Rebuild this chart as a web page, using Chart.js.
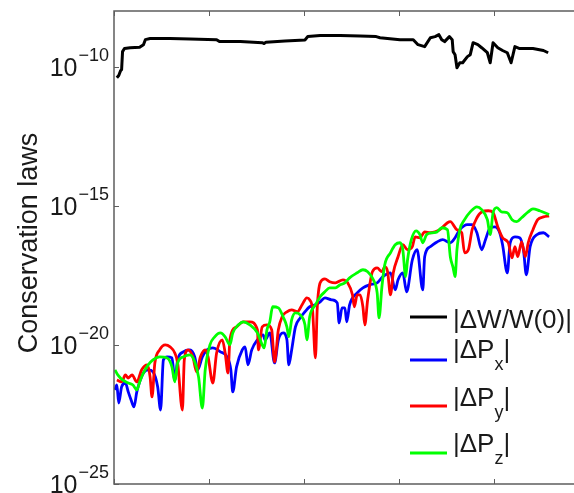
<!DOCTYPE html>
<html>
<head>
<meta charset="utf-8">
<script src="https://cdn.jsdelivr.net/npm/chart.js@4.4.1/dist/chart.umd.min.js"></script>
<style>
    html, body { margin: 0; padding: 0; background: #fff; overflow: hidden; }
    canvas { display: block; }
</style>
</head>
<body>
<canvas id="lawsChart" width="574" height="493"></canvas>
<script>
// time axis (arbitrary units, ticks every 1) and log10 of each conserved quantity
var wX = [0.03,0.05,0.07,0.08,0.09,0.11,0.17,0.27,0.31,0.33,0.38,0.59,0.80,1.08,1.11,1.33,1.56,1.58,1.60,1.80,
    2.01,2.04,2.17,2.38,2.59,2.76,2.80,3.01,3.15,3.20,3.27,3.33,3.38,3.42,3.45,3.48,3.53,3.56,3.57,3.59,
    3.61,3.64,3.67,3.72,3.75,3.78,3.83,3.87,3.93,3.96,3.99,4.04,4.09,4.14,4.18,4.22,4.27,4.41,4.52,4.57];
var wExp = [-10.40,-10.32,-10.14,-10.11,-9.46,-9.35,-9.32,-9.30,-9.21,-9.03,-8.99,-8.99,-9.01,-9.03,-9.10,-9.10,-9.14,-9.17,-9.12,-9.08,
    -9.04,-8.92,-8.88,-8.88,-8.90,-8.92,-8.96,-9.03,-9.03,-9.21,-9.28,-8.96,-8.92,-8.85,-9.03,-9.10,-8.92,-9.03,-9.46,-9.57,
    -10.04,-9.86,-9.86,-9.64,-9.57,-9.14,-9.21,-9.32,-9.50,-9.86,-9.14,-9.32,-9.42,-9.50,-9.86,-9.28,-9.35,-9.35,-9.42,-9.50];

var pxX = [0.01,0.03,0.05,0.08,0.12,0.15,0.18,0.21,0.24,0.27,0.31,0.36,0.41,0.46,0.49,0.52,0.56,0.61,0.64,0.67,
    0.73,0.80,0.85,0.88,0.93,0.98,1.04,1.12,1.19,1.23,1.25,1.29,1.35,1.38,1.41,1.45,1.51,1.57,1.59,1.64,
    1.69,1.73,1.78,1.82,1.84,1.87,1.91,1.96,2.01,2.06,2.12,2.17,2.22,2.29,2.35,2.37,2.40,2.43,2.45,2.48,
    2.56,2.62,2.69,2.77,2.83,2.91,2.96,2.99,3.04,3.08,3.14,3.19,3.25,3.27,3.33,3.40,3.46,3.54,3.59,3.64,
    3.72,3.77,3.82,3.87,3.91,3.96,4.01,4.06,4.09,4.14,4.17,4.22,4.27,4.31,4.34,4.38,4.45,4.52,4.58];
var pxExp = [-21.62,-21.44,-22.09,-21.51,-21.37,-21.69,-21.98,-22.23,-21.69,-21.33,-21.01,-20.90,-20.97,-21.51,-22.34,-20.54,-20.43,-20.47,-21.26,-20.54,
    -20.25,-20.18,-20.43,-20.90,-20.43,-20.18,-20.11,-20.25,-20.43,-20.90,-21.69,-20.79,-20.18,-20.07,-20.72,-20.18,-19.82,-19.64,-19.82,-19.57,
    -20.65,-19.82,-19.57,-19.82,-20.72,-20.18,-19.35,-19.03,-18.81,-18.63,-18.56,-18.45,-18.31,-18.38,-18.49,-19.21,-18.67,-18.67,-19.17,-18.56,
    -18.13,-17.95,-17.84,-17.77,-17.55,-17.41,-18.02,-17.66,-17.41,-18.09,-16.95,-16.58,-18.02,-16.83,-16.47,-16.30,-16.22,-16.33,-16.15,-15.86,
    -15.68,-15.68,-15.97,-16.58,-16.22,-15.79,-15.76,-15.97,-16.40,-17.41,-16.33,-16.12,-16.15,-16.58,-17.48,-16.47,-16.04,-15.97,-16.12];

var pyX = [0.03,0.08,0.12,0.15,0.19,0.24,0.29,0.35,0.38,0.40,0.43,0.48,0.54,0.59,0.64,0.67,0.72,0.74,0.78,0.83,
    0.87,0.91,0.96,0.99,1.04,1.08,1.14,1.17,1.20,1.22,1.29,1.36,1.43,1.51,1.52,1.56,1.61,1.66,1.69,1.73,
    1.77,1.82,1.87,1.93,1.98,2.03,2.06,2.09,2.12,2.14,2.17,2.22,2.27,2.33,2.41,2.46,2.51,2.53,2.56,2.59,
    2.62,2.64,2.67,2.72,2.77,2.82,2.85,2.88,2.91,2.94,2.99,3.04,3.09,3.14,3.17,3.22,3.27,3.33,3.38,3.43,
    3.51,3.54,3.61,3.66,3.69,3.73,3.77,3.82,3.87,3.94,3.99,4.04,4.09,4.15,4.19,4.22,4.25,4.29,4.33,4.36,
    4.41,4.46,4.52,4.58];
var pyExp = [-21.26,-21.33,-21.08,-21.19,-21.08,-21.33,-20.90,-20.72,-21.15,-21.87,-20.65,-20.18,-20.00,-20.07,-20.29,-20.65,-22.34,-20.54,-20.18,-20.43,
    -20.97,-20.43,-20.18,-20.43,-21.37,-20.29,-19.82,-20.29,-21.01,-19.82,-19.35,-19.17,-19.17,-19.46,-20.18,-19.35,-19.28,-19.46,-20.61,-19.46,
    -18.99,-18.81,-18.74,-18.81,-18.56,-18.31,-18.38,-18.74,-20.47,-18.63,-17.77,-17.63,-17.73,-17.77,-17.66,-17.77,-18.20,-18.63,-18.20,-18.20,
    -18.63,-19.28,-18.38,-17.37,-17.23,-17.37,-17.19,-17.37,-18.20,-17.41,-16.83,-16.40,-16.58,-16.47,-16.12,-16.15,-15.94,-15.97,-15.94,-15.86,
    -15.61,-15.57,-15.86,-15.97,-16.69,-16.58,-15.86,-15.43,-15.22,-15.18,-15.25,-15.76,-16.15,-16.33,-16.87,-16.47,-16.83,-16.30,-16.83,-16.33,
    -15.86,-15.50,-15.40,-15.36];

var pzX = [0.01,0.04,0.09,0.15,0.20,0.24,0.27,0.31,0.36,0.41,0.48,0.56,0.61,0.64,0.67,0.73,0.80,0.85,0.89,0.93,
    0.96,1.01,1.06,1.12,1.17,1.22,1.25,1.31,1.36,1.43,1.51,1.56,1.58,1.61,1.64,1.67,1.73,1.78,1.82,1.84,
    1.87,1.91,1.96,2.01,2.03,2.06,2.12,2.17,2.22,2.27,2.33,2.38,2.43,2.48,2.56,2.62,2.67,2.73,2.77,2.79,
    2.82,2.85,2.91,2.96,3.01,3.04,3.07,3.09,3.13,3.18,3.22,3.25,3.29,3.35,3.40,3.45,3.51,3.54,3.57,3.59,
    3.61,3.64,3.69,3.75,3.82,3.87,3.93,3.96,3.99,4.03,4.08,4.14,4.19,4.24,4.29,4.36,4.41,4.48,4.58];
var pzExp = [-20.90,-21.08,-21.26,-21.37,-21.44,-21.62,-21.33,-21.01,-20.72,-20.54,-20.43,-20.47,-20.79,-21.33,-20.65,-20.43,-20.36,-20.61,-21.15,-22.27,
    -20.90,-20.00,-19.71,-19.57,-19.71,-20.00,-19.57,-19.28,-19.17,-19.28,-19.57,-20.00,-20.11,-19.46,-19.17,-18.63,-18.67,-18.99,-19.35,-19.71,
    -19.10,-18.85,-18.92,-19.28,-19.82,-18.99,-18.56,-18.27,-18.09,-17.95,-17.95,-17.84,-17.77,-17.59,-17.41,-17.30,-17.37,-17.66,-18.13,-19.03,
    -17.91,-17.12,-16.69,-16.40,-16.33,-16.58,-17.55,-16.94,-16.22,-15.90,-16.04,-16.33,-16.04,-15.97,-15.94,-15.79,-15.86,-16.83,-17.23,-17.55,
    -16.58,-15.86,-15.50,-15.22,-15.04,-15.14,-15.50,-16.04,-15.25,-15.07,-15.22,-15.25,-15.50,-15.57,-15.43,-15.22,-15.11,-15.18,-15.32];

var yTicks = [1e-25, 1e-20, 1e-15, 1e-10];
var legendLabels = [["|\u0394W/W(0)|", ""], ["|\u0394P", "x"], ["|\u0394P", "y"], ["|\u0394P", "z"]];

var FONT = '"Liberation Sans", Arial, Helvetica, sans-serif';

function toPoints(xs, exps) {
    var pts = [];
    for (var i = 0; i < xs.length; i++) {
        pts.push({ x: xs[i], y: Math.pow(10, exps[i]) });
    }
    return pts;
}

// matlab style box, inward ticks, 10^n labels and the legend
var framePlugin = {
    id: 'frame',
    afterDraw: function(chart) {
        var ctx = chart.ctx;
        var a = chart.chartArea;
        var xs = chart.scales.x;
        var ys = chart.scales.y;
        ctx.save();

        ctx.strokeStyle = '#5e5e5e';
        ctx.lineWidth = 1.5;
        ctx.beginPath();
        ctx.moveTo(a.right, a.top);
        ctx.lineTo(a.left, a.top);
        ctx.lineTo(a.left, a.bottom);
        ctx.lineTo(a.right, a.bottom);
        ctx.stroke();

        ctx.lineWidth = 1;
        ctx.beginPath();
        xs.ticks.forEach(function(t) {
            var px = Math.round(xs.getPixelForValue(t.value)) + 0.5;
            ctx.moveTo(px, a.bottom);
            ctx.lineTo(px, a.bottom - 5);
            ctx.moveTo(px, a.top);
            ctx.lineTo(px, a.top + 5);
        });
        ys.ticks.forEach(function(t) {
            var py = Math.round(ys.getPixelForValue(t.value)) + 0.5;
            ctx.moveTo(a.left, py);
            ctx.lineTo(a.left + 5, py);
        });
        ctx.stroke();

        // tick labels 10^n
        ctx.fillStyle = '#1a1a1a';
        ctx.textAlign = 'right';
        ctx.textBaseline = 'alphabetic';
        ys.ticks.forEach(function(t) {
            var py = ys.getPixelForValue(t.value);
            var e = Math.round(Math.log10(t.value));
            var sup = '\u2212' + Math.abs(e);
            ctx.font = '18px ' + FONT;
            var supW = ctx.measureText(sup).width;
            ctx.fillText(sup, a.left - 5, py - 6);
            ctx.font = '25px ' + FONT;
            ctx.fillText('10', a.left - 6 - supW, py + 9);
        });

        // y axis title
        ctx.save();
        ctx.translate(37, 243);
        ctx.rotate(-Math.PI / 2);
        ctx.textAlign = 'center';
        ctx.font = '27px ' + FONT;
        ctx.fillText('Conservation laws', 0, 0);
        ctx.restore();

        // legend
        var lineY = [317, 360, 406, 453];
        var textY = [328, 358, 406, 452];
        ctx.textAlign = 'left';
        ctx.lineWidth = 2.8;
        legendLabels.forEach(function(lab, i) {
            ctx.strokeStyle = chart.data.datasets[i].borderColor;
            ctx.beginPath();
            ctx.moveTo(410, lineY[i]);
            ctx.lineTo(447, lineY[i]);
            ctx.stroke();
            ctx.font = '26px ' + FONT;
            ctx.fillText(lab[0], 453, textY[i]);
            if (lab[1]) {
                var w = ctx.measureText(lab[0]).width;
                ctx.font = '18px ' + FONT;
                ctx.fillText(lab[1], 453 + w, textY[i] + 12);
                var sw = ctx.measureText(lab[1]).width;
                ctx.font = '26px ' + FONT;
                ctx.fillText('|', 453 + w + sw, textY[i]);
            }
        });

        ctx.restore();
    }
};

var ctx = document.getElementById('lawsChart');
var lawsChart = new Chart(ctx, {
    type: 'line',
    data: {
        datasets: [{
            label: '|\u0394W/W(0)|',
            data: toPoints(wX, wExp),
            borderColor: '#000000',
            borderWidth: 3,
            order: 0
        }, {
            label: '|\u0394Px|',
            data: toPoints(pxX, pxExp),
            borderColor: '#0000ff',
            cubicInterpolationMode: 'monotone',
            order: 3
        }, {
            label: '|\u0394Py|',
            data: toPoints(pyX, pyExp),
            borderColor: '#ff0000',
            cubicInterpolationMode: 'monotone',
            order: 2
        }, {
            label: '|\u0394Pz|',
            data: toPoints(pzX, pzExp),
            borderColor: '#00ff00',
            cubicInterpolationMode: 'monotone',
            order: 1
        }]
    },
    options: {
        responsive: false,
        devicePixelRatio: 1,
        animation: false,
        layout: { padding: { top: 11, left: 0, right: 0, bottom: 0 } },
        elements: {
            line: { borderWidth: 2.8, tension: 0, fill: false, borderJoinStyle: 'round' },
            point: { radius: 0 }
        },
        plugins: {
            legend: { display: false },
            tooltip: { enabled: false }
        },
        scales: {
            x: {
                type: 'linear',
                min: 0,
                max: 4.842,
                grid: { display: false },
                border: { display: false },
                ticks: { display: false, stepSize: 1, includeBounds: false },
                afterFit: function(s) { s.height = 9; }
            },
            y: {
                type: 'logarithmic',
                min: 1e-25,
                max: 1e-8,
                grid: { display: false },
                border: { display: false },
                ticks: { display: false },
                afterBuildTicks: function(s) {
                    s.ticks = yTicks.map(function(v) { return { value: v }; });
                },
                afterFit: function(s) { s.width = 114; }
            }
        }
    },
    plugins: [framePlugin]
});
</script>
</body>
</html>
